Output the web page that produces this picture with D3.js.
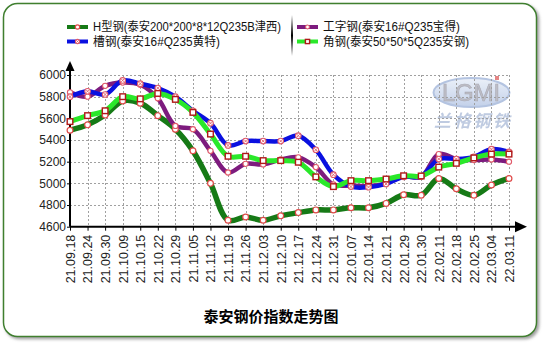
<!DOCTYPE html>
<html>
<head>
<meta charset="utf-8">
<script src="https://cdn.jsdelivr.net/npm/d3@7"></script>
<style>
  body { margin: 0; background: #fff; }
  svg { display: block; font-family: "Liberation Sans", Arial, "Noto Sans CJK SC", sans-serif; }
</style>
</head>
<body>
<svg id="chart" width="543" height="344"></svg>
<script>
// Weekly dates
const dates = ["21.09.18","21.09.24","21.09.30","21.10.09","21.10.15","21.10.22","21.10.29",
  "21.11.05","21.11.12","21.11.19","21.11.26","21.12.03","21.12.10","21.12.17","21.12.24",
  "21.12.31","22.01.07","22.01.14","22.01.21","22.01.29","22.01.30","22.02.11","22.02.18",
  "22.02.25","22.03.04","22.03.11"];

// Price index per product (元/吨)
const hBeam   = [5490,5540,5630,5760,5740,5625,5500,5300,5000,4660,4690,4660,4700,4730,4755,
                 4755,4775,4775,4815,4895,4890,5045,4950,4890,4985,5045];
const iBeam   = [5840,5800,5900,5930,5910,5785,5530,5500,5300,5100,5180,5175,5220,5240,5150,
                 4990,4980,4975,5000,5065,5060,5270,5225,5215,5220,5200];
const channel = [5800,5850,5820,5950,5920,5880,5800,5670,5555,5350,5390,5390,5390,5440,5310,
                 5080,4970,4965,4995,5060,5065,5225,5225,5245,5315,5290];
const angle   = [5570,5625,5670,5800,5780,5830,5775,5655,5455,5250,5250,5210,5210,5195,5060,
                 4970,5025,5025,5040,5070,5068,5150,5185,5235,5270,5270];

const yTicks = [4600,4800,5000,5200,5400,5600,5800,6000];

const seriesNames = ["H型钢(泰安200*200*8*12Q235B津西)", "工字钢(泰安16#Q235宝得)",
                     "槽钢(泰安16#Q235黄特)", "角钢(泰安50*50*5Q235安钢)"];
const title = "泰安钢价指数走势图";

const series = [
  { name: seriesNames[0], values: hBeam,   color: "#167a16", width: 5.5, marker: "circle" },
  { name: seriesNames[1], values: iBeam,   color: "#7d1b7e", width: 4.5, marker: "dot" },
  { name: seriesNames[2], values: channel, color: "#0a10e0", width: 4.5, marker: "cross" },
  { name: seriesNames[3], values: angle,   color: "#2ae82a", width: 5,   marker: "square" }
];

const svg = d3.select("#chart");
const defs = svg.append("defs");

const shadow = defs.append("filter").attr("id", "shadow")
  .attr("x", "-5%").attr("y", "-5%").attr("width", "110%").attr("height", "110%");
shadow.append("feDropShadow").attr("dx", 2).attr("dy", 2).attr("stdDeviation", 1.5)
  .attr("flood-color", "#777").attr("flood-opacity", 0.7);

const sepGrad = defs.append("linearGradient").attr("id", "sep")
  .attr("x1", 0).attr("y1", 0).attr("x2", 0).attr("y2", 1);
sepGrad.append("stop").attr("offset", "0%").attr("stop-color", "#000").attr("stop-opacity", 0);
sepGrad.append("stop").attr("offset", "50%").attr("stop-color", "#000").attr("stop-opacity", 1);
sepGrad.append("stop").attr("offset", "100%").attr("stop-color", "#000").attr("stop-opacity", 0);

const logoGrad = defs.append("linearGradient").attr("id", "logoFill")
  .attr("x1", 0).attr("y1", 0).attr("x2", 0).attr("y2", 1);
logoGrad.append("stop").attr("offset", "0%").attr("stop-color", "#e8eef8");
logoGrad.append("stop").attr("offset", "100%").attr("stop-color", "#b9c9e6");

// Card frame
svg.append("rect")
  .attr("x", 3.5).attr("y", 3.5).attr("width", 533).attr("height", 333)
  .attr("rx", 14).attr("ry", 14)
  .attr("fill", "#fff").attr("stroke", "#3f7f2f").attr("stroke-width", 1.5)
  .attr("filter", "url(#shadow)");

// Scales
const x = d3.scalePoint().domain(dates).range([70, 509]);
const y = d3.scaleLinear().domain([4600, 6000]).range([226.7, 75]);

// Watermark logo
const logo = svg.append("g").attr("opacity", 0.85);
logo.append("ellipse").attr("cx", 471.5).attr("cy", 92.5).attr("rx", 38).attr("ry", 14.5)
  .attr("fill", "url(#logoFill)").attr("stroke", "#a8badc").attr("stroke-width", 2);
logo.append("text").attr("x", 471).attr("y", 101).attr("text-anchor", "middle")
  .attr("font-size", 24).attr("textLength", 58).attr("lengthAdjust", "spacingAndGlyphs")
  .attr("fill", "#b3b3bd").attr("stroke", "#9a9aa6").attr("stroke-width", 0.6)
  .text("LGMI");
logo.append("rect").attr("x", 495).attr("y", 76).attr("width", 4).attr("height", 4)
  .attr("fill", "#e07070");
logo.append("text").attr("x", 472).attr("y", 127).attr("text-anchor", "middle")
  .attr("font-size", 17).attr("textLength", 76).attr("lengthAdjust", "spacing")
  .attr("font-style", "italic").attr("font-weight", "bold").attr("fill", "#b4c2dc")
  .attr("font-family", "'Noto Sans CJK SC', sans-serif")
  .text("兰格钢铁");

// Grid
const grid = svg.append("g").attr("stroke", "#a0a0a0").attr("stroke-width", 1)
  .attr("stroke-dasharray", "2,2");
grid.selectAll("line.h").data(yTicks.filter(t => t > 4600)).join("line")
  .attr("x1", 70).attr("x2", 509)
  .attr("y1", d => Math.round(y(d)) + 0.5).attr("y2", d => Math.round(y(d)) + 0.5);
grid.selectAll("line.v").data(dates.slice(1)).join("line")
  .attr("x1", d => Math.round(x(d)) + 0.5).attr("x2", d => Math.round(x(d)) + 0.5)
  .attr("y1", y(6000)).attr("y2", y(4600));

// Axes
const yAxis = svg.append("g").attr("transform", "translate(70,0)")
  .call(d3.axisLeft(y).tickValues(yTicks).tickSize(3).tickFormat(d3.format("d")));
yAxis.select(".domain").remove();
yAxis.selectAll("text").attr("font-size", 12).attr("fill", "#222").attr("x", -4);
yAxis.selectAll("line").attr("stroke", "#000");

const xAxis = svg.append("g").attr("transform", `translate(0,${y(4600)})`)
  .call(d3.axisBottom(x).tickSize(4));
xAxis.select(".domain").remove();
xAxis.selectAll("line").attr("stroke", "#000");
xAxis.selectAll("text")
  .attr("font-size", 12.5).attr("fill", "#222")
  .attr("transform", "rotate(-90)")
  .attr("text-anchor", "end")
  .attr("x", -8).attr("y", 0).attr("dy", "0.35em");

// Axis lines with arrows
svg.append("line").attr("x1", 70).attr("x2", 70).attr("y1", y(4600)).attr("y2", 68)
  .attr("stroke", "#000").attr("stroke-width", 2);
svg.append("path").attr("d", "M70,61 L65.5,71 L74.5,71 Z").attr("fill", "#000");
svg.append("line").attr("x1", 70).attr("x2", 520).attr("y1", y(4600)).attr("y2", y(4600))
  .attr("stroke", "#000").attr("stroke-width", 2);
svg.append("path")
  .attr("d", `M527,${y(4600)} L515,${y(4600) - 5.5} L515,${y(4600) + 5.5} Z`)
  .attr("fill", "#000");

// Lines
const line = d3.line()
  .x((d, i) => x(dates[i]))
  .y(d => y(d))
  .curve(d3.curveCatmullRom.alpha(0.5));

const drawOrder = [0, 1, 2, 3];
drawOrder.forEach(k => {
  const s = series[k];
  svg.append("path").datum(s.values)
    .attr("d", line).attr("fill", "none")
    .attr("stroke", s.color).attr("stroke-width", s.width)
    .attr("stroke-linejoin", "round").attr("stroke-linecap", "round");
});

function drawMarker(g, type, cx, cy, sc = 1) {
  if (type === "square") {
    const h = 2.8 * sc;
    g.append("rect").attr("x", cx - h).attr("y", cy - h).attr("width", 2 * h).attr("height", 2 * h)
      .attr("fill", "#fff").attr("stroke", "#b01818").attr("stroke-width", 1.4);
  } else if (type === "circle") {
    g.append("circle").attr("cx", cx).attr("cy", cy).attr("r", 2.9 * sc)
      .attr("fill", "#fff").attr("stroke", "#e04a4a").attr("stroke-width", 1.2);
  } else if (type === "dot") {
    g.append("circle").attr("cx", cx).attr("cy", cy).attr("r", 2.6 * sc)
      .attr("fill", "#fff").attr("stroke", "#e05a6a").attr("stroke-width", 1.1);
  } else {
    const r = 2.8 * sc, c = 1.5 * sc;
    g.append("circle").attr("cx", cx).attr("cy", cy).attr("r", r)
      .attr("fill", "#fff").attr("stroke", "#e05a6a").attr("stroke-width", 1.1);
    g.append("path")
      .attr("d", `M${cx - c},${cy - c}L${cx + c},${cy + c}M${cx - c},${cy + c}L${cx + c},${cy - c}`)
      .attr("stroke", "#e05a6a").attr("stroke-width", 0.9);
  }
}

drawOrder.forEach(k => {
  const s = series[k];
  const g = svg.append("g");
  s.values.forEach((v, i) => drawMarker(g, s.marker, x(dates[i]), y(v)));
});

// Legend
const legend = svg.append("g").attr("font-size", 12).attr("fill", "#111");
const legendPos = [
  { k: 0, lx: 67, tx: 93, y: 27, w: 188 },
  { k: 2, lx: 67, tx: 93, y: 41.5, w: 127 },
  { k: 1, lx: 297, tx: 323, y: 27, w: 137 },
  { k: 3, lx: 297, tx: 323, y: 41.5, w: 146 }
];
legendPos.forEach(p => {
  const s = series[p.k];
  legend.append("line").attr("x1", p.lx).attr("x2", p.lx + 21).attr("y1", p.y).attr("y2", p.y)
    .attr("stroke", s.color).attr("stroke-width", 4);
  drawMarker(legend, s.marker, p.lx + 10.5, p.y, 0.75);
  legend.append("text").attr("x", p.tx).attr("y", p.y).attr("dy", "0.36em")
    .attr("textLength", p.w).attr("lengthAdjust", "spacingAndGlyphs")
    .text(s.name);
});
svg.append("rect").attr("x", 291).attr("y", 15).attr("width", 2).attr("height", 41)
  .attr("fill", "url(#sep)");

// Title
svg.append("text").attr("x", 271).attr("y", 322).attr("text-anchor", "middle")
  .attr("font-size", 15).attr("font-weight", "bold").attr("fill", "#000")
  .attr("font-family", "'Noto Sans CJK SC', sans-serif")
  .text(title);
</script>
</body>
</html>
